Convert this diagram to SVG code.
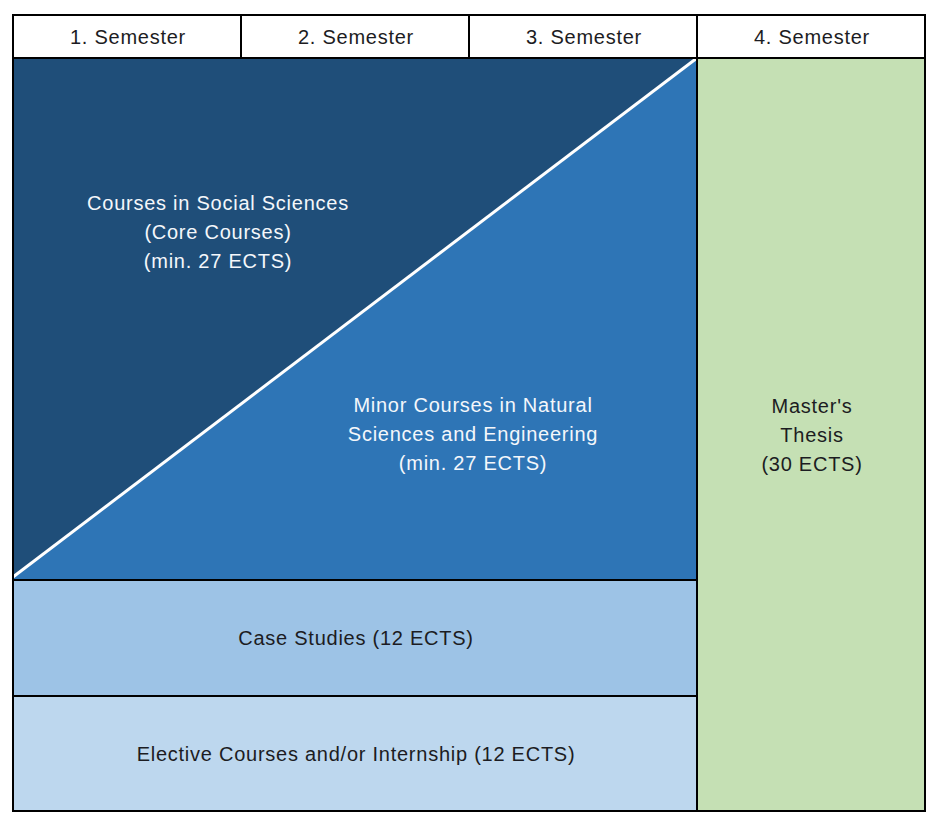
<svg xmlns="http://www.w3.org/2000/svg" width="943" height="827" viewBox="0 0 943 827">
<style>
.t{font-family:"Liberation Sans",Arial,sans-serif;font-size:20px;text-anchor:middle;letter-spacing:0.75px;}
.w{fill:#f4f7fb;}
.d{fill:#1c1c22;}
.b{stroke:#000;stroke-width:2;}
</style>
<rect width="943" height="827" fill="#fff"/>
<g id="header">
<rect x="13" y="15" width="912" height="43" fill="#fff" class="b"/>
<line x1="241" y1="15" x2="241" y2="58" class="b"/>
<line x1="469" y1="15" x2="469" y2="58" class="b"/>
<line x1="697" y1="15" x2="697" y2="58" class="b"/>
<text class="t d" x="128" y="44">1. Semester</text>
<text class="t d" x="356" y="44">2. Semester</text>
<text class="t d" x="584" y="44">3. Semester</text>
<text class="t d" x="812" y="44">4. Semester</text>
</g>
<g id="social">
<polygon points="13,58 697,58 13,578" fill="#1F4E79"/>
<text class="t w" x="218" y="210">Courses in Social Sciences</text>
<text class="t w" x="218" y="239">(Core Courses)</text>
<text class="t w" x="218" y="268">(min. 27 ECTS)</text>
</g>
<g id="minor">
<polygon points="697,58 697,580 13,580 13,578" fill="#2E75B6"/>
<text class="t w" x="473" y="412">Minor Courses in Natural</text>
<text class="t w" x="473" y="441">Sciences and Engineering</text>
<text class="t w" x="473" y="470">(min. 27 ECTS)</text>
</g>
<g id="connectors">
<line x1="697" y1="58" x2="13" y2="577" stroke="#fff" stroke-width="3"/>
</g>
<g id="case">
<rect x="13" y="580" width="684" height="116" fill="#9DC3E6" class="b"/>
<text class="t d" x="356" y="645">Case Studies (12 ECTS)</text>
</g>
<g id="elective">
<rect x="13" y="696" width="684" height="115" fill="#BDD7EE" class="b"/>
<text class="t d" x="356" y="761">Elective Courses and/or Internship (12 ECTS)</text>
</g>
<g id="thesis">
<rect x="697" y="58" width="228" height="753" fill="#C5E0B4" class="b"/>
<text class="t d" x="812" y="413">Master's</text>
<text class="t d" x="812" y="442">Thesis</text>
<text class="t d" x="812" y="471">(30 ECTS)</text>
</g>
<rect x="13" y="15" width="912" height="796" fill="none" class="b"/>
<line x1="13" y1="58" x2="925" y2="58" class="b"/>
</svg>
